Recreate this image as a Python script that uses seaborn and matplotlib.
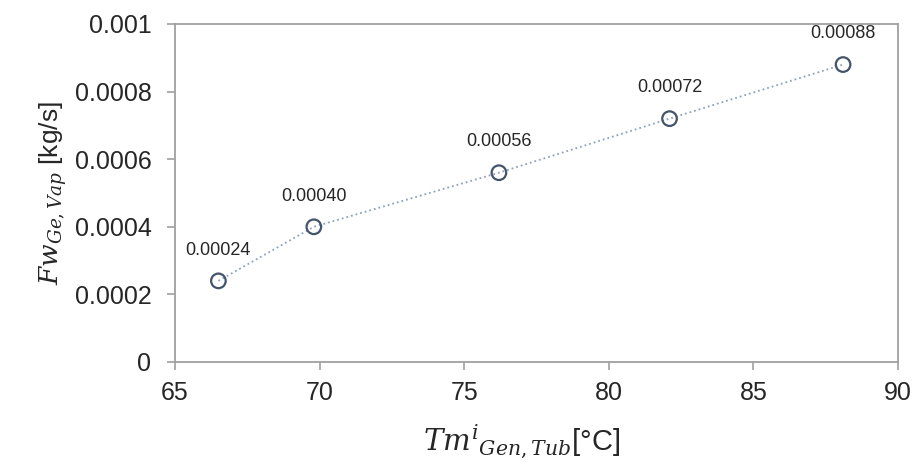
import matplotlib.pyplot as plt
import seaborn as sns
import pandas as pd

# data
temp = [66.5, 69.8, 76.2, 82.1, 88.1]
flow = [0.00024, 0.00040, 0.00056, 0.00072, 0.00088]
point_labels = ["0.00024", "0.00040", "0.00056", "0.00072", "0.00088"]
xticks = [65, 70, 75, 80, 85, 90]
yticks = [0, 0.0002, 0.0004, 0.0006, 0.0008, 0.001]
ytick_labels = ["0", "0.0002", "0.0004", "0.0006", "0.0008", "0.001"]

df = pd.DataFrame({"temp": temp, "flow": flow})

sns.set_style("white")
plt.rcParams['font.family'] = ['Liberation Sans', 'DejaVu Sans']
plt.rcParams['mathtext.fontset'] = 'dejavuserif'

fig = plt.figure(figsize=(9.14, 4.66), dpi=100)
ax = fig.add_axes([0.1915, 0.2232, 0.7910, 0.7253])

sns.lineplot(data=df, x="temp", y="flow", ax=ax, color="#8fa2bd",
             linestyle=":", linewidth=1.3)
sns.scatterplot(data=df, x="temp", y="flow", ax=ax, s=110,
                facecolor="none", edgecolor="#44546a", linewidth=1.6, zorder=3)

for x, y, lab in zip(temp, flow, point_labels):
    ax.annotate(lab, (x, y), xytext=(0, 16), textcoords="offset points",
                ha="center", va="bottom", fontsize=13, color="#262626")

ax.set_xlim(65, 90)
ax.set_ylim(0, 0.001)
ax.set_xticks(xticks)
ax.set_yticks(yticks)
ax.set_yticklabels(ytick_labels)
ax.tick_params(axis="both", labelsize=18, colors="#a0a0a0", labelcolor="#262626",
               direction="out", length=6, width=1.2, left=True, bottom=True)
ax.tick_params(axis="y", pad=11)
ax.tick_params(axis="x", pad=8)
for sp in ax.spines.values():
    sp.set_color("#a0a0a0")
    sp.set_linewidth(1.3)

ax.set_xlabel(r"$Tm^{i}{}_{Gen,Tub}$[°C]", fontsize=21, color="#262626", labelpad=8)
ax.set_ylabel(r"$Fw_{Ge,Vap}$ [kg/s]", fontsize=19, color="#262626", labelpad=4)
ax.xaxis.set_label_coords(0.48, -0.18)

fig.savefig("out.png", dpi=100)
